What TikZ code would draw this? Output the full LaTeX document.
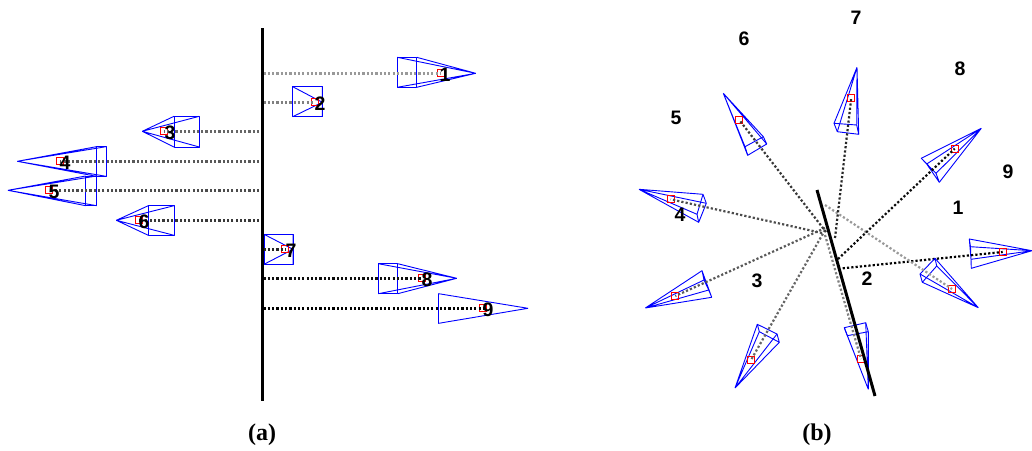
\documentclass[tikz,border=0pt]{standalone}
\usepackage{fontspec}
\setmainfont{Liberation Sans}
\newfontfamily\capfont{Liberation Serif}
\tikzset{
  frustum/.style={draw=blue, line width=0.9pt, line join=round},
  marker/.style={draw=red, line width=0.9pt, minimum size=7pt, inner sep=0pt},
  sightline/.style={line width=2.4pt, dash pattern=on 2.2pt off 2.1pt},
  wall/.style={line width=3pt},
  numlabel/.style={font=\fontsize{19.5}{19.5}\bfseries\selectfont, inner sep=0pt},
  caplabel/.style={font=\fontsize{24}{24}\capfont\bfseries\selectfont, inner sep=0pt}
}
\begin{document}
\begin{tikzpicture}[x=1pt,y=-1pt]
    \useasboundingbox (0,0) rectangle (1032,450);
    % (a) side view
    \coordinate (wa1) at (262,28);
    \coordinate (wa2) at (262,401);
    \foreach \n/\xa/\xb/\ya/\yb/\tx/\ty/\mx/\lx/\gr in {
        1/397.3/416.7/57.3/87.3/475.7/73.3/441/445/40,
        2/292.7/322.3/86.7/116.7/322.3/102.3/315/320/50,
        3/199.3/174/116.3/147/142.3/131.3/164.3/170/60,
        4/106/96.3/146.7/176.3/17.3/161.3/60/65/65,
        5/96.7/85.7/176/205.7/8/190.3/49.3/54/70,
        6/174/148.3/205.7/235.3/116.3/220.3/138.7/144/78,
        7/264/293/234.3/264.3/293/249.3/285.3/291/85,
        8/378.3/397.7/263.7/293.7/456.7/278.3/421.7/427/95,
        9/438.7/438.7/293.7/323.3/528/308.3/483.3/488/100}
    {
      \draw[frustum] (\xa,\ya) rectangle (\xb,\yb);
      \draw[frustum] (\tx,\ty) -- (\xa,\ya) (\tx,\ty) -- (\xb,\ya)
                     (\tx,\ty) -- (\xa,\yb) (\tx,\ty) -- (\xb,\yb);
      \node[marker] (ma\n) at (\mx,\ty) {};
      \coordinate (sa\n) at (263.5,\ty);
      \draw[sightline, black!\gr] (sa\n) -- (ma\n.center);
      \node[numlabel] (la\n) at (\lx,\ty+1.7) {\n};
    }
    \draw[wall] (wa1) -- (wa2);
    \node[caplabel] (capa) at (262,435) {(a)};
    % (b) top view
    \coordinate (wb1) at (817,190);
    \coordinate (wb2) at (875,396);
    \foreach \n/\ax/\ay/\bx/\by/\cx/\cy/\dx/\dy/\tx/\ty/\mx/\my/\sx/\sy/\gr in {
        1/969.3/239/970.5/246.7/971.3/268.3/971/259.3/1032/250.7/1002.7/252/842.7/268.3/100,
        2/935/258.3/936.7/266/922.3/282.3/920/274/978.3/307.7/952/289/825/205/40,
        3/844.3/327.7/865.7/322.7/868.3/331.7/847.3/335.7/868.3/389.3/861/359/825/235/50,
        4/757.3/324.3/777/334/779.3/342.3/759.3/331.7/735/388/751/360/825/230/60,
        5/702/270.7/704/280/708.7/290/711.7/297.3/645.3/308/675.3/296/825/228/65,
        6/703/194.3/706.3/203.3/698.7/222.3/697/214.3/639/189.3/670.7/199.3/822/233/70,
        7/763.3/136.7/766.7/144/747.7/155.3/745/146.7/723.3/93.3/739.3/120/826/232/78,
        8/834/123.3/837.3/131.7/858.7/134.3/856.7/125/857/67.3/851.3/97.7/835/238/85,
        9/921.3/158.3/926.7/164/939.3/182.3/936/173.3/981.3/128.3/954.7/148.7/838/259/95}
    {
      \draw[frustum] (\ax,\ay) -- (\bx,\by) -- (\cx,\cy) -- (\dx,\dy) -- cycle;
      \draw[frustum] (\tx,\ty) -- (\ax,\ay) (\tx,\ty) -- (\bx,\by)
                     (\tx,\ty) -- (\cx,\cy) (\tx,\ty) -- (\dx,\dy);
      \node[marker] (mb\n) at (\mx,\my) {};
      \coordinate (sb\n) at (\sx,\sy);
      \draw[sightline, line width=2.2pt, black!\gr] (sb\n) -- (mb\n.center);
    }
    \draw[wall] (wb1) -- (wb2);
    \foreach \n/\lx/\ly in {1/958/208, 2/867/279, 3/757/281, 4/680/215, 5/676/118,
                            6/744/39, 7/856/18, 8/960/69, 9/1008/172}
      \node[numlabel] (lb\n) at (\lx,\ly) {\n};
    \node[caplabel] (capb) at (817,435) {(b)};
\end{tikzpicture}
\end{document}
